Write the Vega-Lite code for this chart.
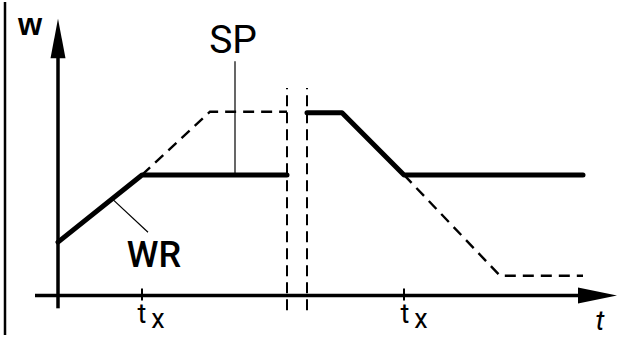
{
  "$schema": "https://vega.github.io/schema/vega-lite/v6.json",
  "width": 618,
  "height": 337,
  "autosize": {"type": "fit", "contains": "padding"},
  "padding": 0,
  "background": "white",
  "config": {"view": {"stroke": null}},
  "datasets": {
    "frame": [{"t": -5.3, "w": -4.0, "t2": -5.3, "w2": 29.7}],
    "axes": [
      {"t": 0, "w": -1.3, "t2": 0, "w2": 24.2},
      {"t": -2.3, "w": 0, "t2": 52.2, "w2": 0}
    ],
    "ticks": [
      {"t": 8.4, "w": 0.7, "t2": 8.4, "w2": -0.5},
      {"t": 34.6, "w": 0.7, "t2": 34.6, "w2": -0.5}
    ],
    "breaks": [
      {"t": 22.9, "w": -1.5, "t2": 22.9, "w2": 21.0},
      {"t": 24.9, "w": -1.5, "t2": 24.9, "w2": 21.0}
    ],
    "leaders": [
      {"t": 17.7, "w": 12.2, "t2": 17.7, "w2": 23.7},
      {"t": 5.5, "w": 9.7, "t2": 9.0, "w2": 6.4}
    ],
    "yArrow": [
      {"w": 24.0, "t": -0.75, "t2": 0.75},
      {"w": 28.0, "t": 0, "t2": 0}
    ],
    "xArrow": [
      {"t": 52.0, "w": -0.8, "w2": 0.8},
      {"t": 55.9, "w": 0, "w2": 0}
    ],
    "actual": [
      {"seg": "A", "i": 1, "t": 0, "w": 5.4},
      {"seg": "A", "i": 2, "t": 8.4, "w": 12.2},
      {"seg": "A", "i": 3, "t": 22.9, "w": 12.2},
      {"seg": "B", "i": 1, "t": 24.9, "w": 18.5},
      {"seg": "B", "i": 2, "t": 28.4, "w": 18.5},
      {"seg": "B", "i": 3, "t": 34.6, "w": 12.2},
      {"seg": "B", "i": 4, "t": 52.5, "w": 12.2}
    ],
    "setpoint": [
      {"seg": "A", "i": 1, "t": 8.4, "w": 12.2},
      {"seg": "A", "i": 2, "t": 15.2, "w": 18.6},
      {"seg": "A", "i": 3, "t": 22.9, "w": 18.6},
      {"seg": "B", "i": 1, "t": 34.6, "w": 12.2},
      {"seg": "B", "i": 2, "t": 44.2, "w": 2.0},
      {"seg": "B", "i": 3, "t": 52.5, "w": 2.0}
    ],
    "bigLabels": [
      {"label": "SP", "t": 17.5, "w": 24.5}
    ],
    "wrLabel": [
      {"label": "WR", "t": 9.6, "w": 2.9}
    ],
    "axisW": [{"label": "w", "t": -2.8, "w": 26.4}],
    "axisT": [{"label": "t", "t": 54.2, "w": -3.5}],
    "tickT": [
      {"label": "t", "t": 8.4, "w": -2.8},
      {"label": "t", "t": 34.7, "w": -2.8}
    ],
    "tickX": [
      {"label": "x", "t": 10.0, "w": -3.3},
      {"label": "x", "t": 36.3, "w": -3.3}
    ]
  },
  "encoding": {
    "x": {"field": "t", "type": "quantitative", "scale": {"domain": [-5.8, 56.0], "nice": false, "zero": false}, "axis": null},
    "y": {"field": "w", "type": "quantitative", "scale": {"domain": [-4.0, 29.7], "nice": false, "zero": false}, "axis": null}
  },
  "layer": [
    {
      "data": {"name": "frame"},
      "mark": {"type": "rule", "color": "black", "strokeWidth": 2.5},
      "encoding": {"x2": {"field": "t2"}, "y2": {"field": "w2"}}
    },
    {
      "data": {"name": "axes"},
      "mark": {"type": "rule", "color": "black", "strokeWidth": 3.5, "strokeCap": "butt"},
      "encoding": {"x2": {"field": "t2"}, "y2": {"field": "w2"}}
    },
    {
      "data": {"name": "yArrow"},
      "mark": {"type": "area", "orient": "horizontal", "color": "black", "opacity": 1},
      "encoding": {"x2": {"field": "t2"}}
    },
    {
      "data": {"name": "xArrow"},
      "mark": {"type": "area", "orient": "vertical", "color": "black", "opacity": 1},
      "encoding": {"y2": {"field": "w2"}}
    },
    {
      "data": {"name": "ticks"},
      "mark": {"type": "rule", "color": "black", "strokeWidth": 2},
      "encoding": {"x2": {"field": "t2"}, "y2": {"field": "w2"}}
    },
    {
      "data": {"name": "breaks"},
      "mark": {"type": "rule", "color": "black", "strokeWidth": 2, "strokeDash": [11, 6]},
      "encoding": {"x2": {"field": "t2"}, "y2": {"field": "w2"}}
    },
    {
      "data": {"name": "leaders"},
      "mark": {"type": "rule", "color": "black", "strokeWidth": 1.2},
      "encoding": {"x2": {"field": "t2"}, "y2": {"field": "w2"}}
    },
    {
      "data": {"name": "setpoint"},
      "mark": {"type": "line", "color": "black", "strokeWidth": 2.4, "strokeDash": [11, 7]},
      "encoding": {"detail": {"field": "seg"}, "order": {"field": "i"}}
    },
    {
      "data": {"name": "actual"},
      "mark": {"type": "line", "color": "black", "strokeWidth": 5, "strokeCap": "round", "strokeJoin": "round"},
      "encoding": {"detail": {"field": "seg"}, "order": {"field": "i"}}
    },
    {
      "data": {"name": "bigLabels"},
      "mark": {"type": "text", "color": "black", "font": "Roboto", "fontSize": 39, "align": "center", "baseline": "alphabetic"},
      "encoding": {"text": {"field": "label"}}
    },
    {
      "data": {"name": "wrLabel"},
      "mark": {"type": "text", "color": "black", "font": "Roboto", "fontSize": 36, "fontWeight": 500, "align": "center", "baseline": "alphabetic"},
      "encoding": {"text": {"field": "label"}}
    },
    {
      "data": {"name": "axisW"},
      "mark": {"type": "text", "color": "black", "font": "Liberation Sans", "fontSize": 31, "fontWeight": "bold", "align": "center", "baseline": "alphabetic"},
      "encoding": {"text": {"field": "label"}}
    },
    {
      "data": {"name": "axisT"},
      "mark": {"type": "text", "color": "black", "font": "Roboto", "fontSize": 28, "fontStyle": "italic", "align": "center", "baseline": "alphabetic"},
      "encoding": {"text": {"field": "label"}}
    },
    {
      "data": {"name": "tickT"},
      "mark": {"type": "text", "color": "black", "font": "Roboto", "fontSize": 27, "align": "center", "baseline": "alphabetic"},
      "encoding": {"text": {"field": "label"}}
    },
    {
      "data": {"name": "tickX"},
      "mark": {"type": "text", "color": "black", "font": "Roboto", "fontSize": 27, "align": "center", "baseline": "alphabetic"},
      "encoding": {"text": {"field": "label"}}
    }
  ]
}
